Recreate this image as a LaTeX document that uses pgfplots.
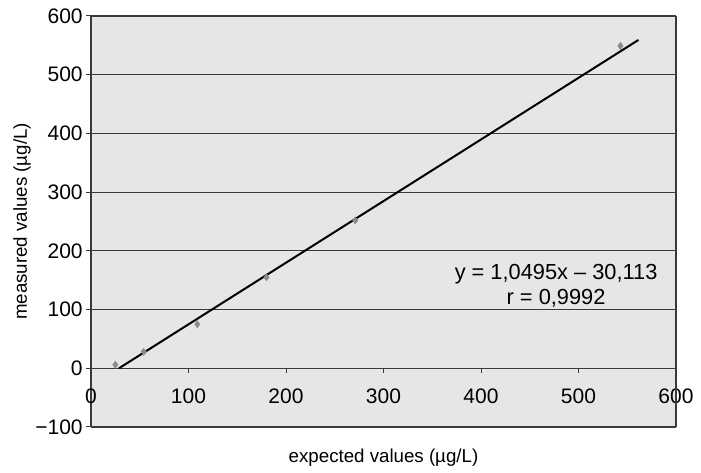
\documentclass[border=0pt]{standalone}
\usepackage{pgfplots}
\pgfplotsset{compat=1.18}
\usepackage{fontspec}
\setmainfont{Liberation Sans}
\definecolor{bg}{HTML}{E5E6E7}
\definecolor{gridc}{HTML}{3A3A3A}
\definecolor{ptc}{HTML}{8A8A8A}
\begin{document}
\fontsize{18.5}{22}\selectfont
\begin{tikzpicture}
\useasboundingbox (-91pt,-46pt) rectangle (610pt,427pt);
\begin{axis}[
 scale only axis, width=585pt, height=411pt,
 xmin=0, xmax=600, ymin=-100, ymax=600,
 axis x line=middle, axis y line=left,
 hide obscured x ticks=false, hide obscured y ticks=false,
 axis line style={-, draw=gridc, line width=1.4pt},
 xtick={0,100,...,600}, ytick={-100,0,...,600},
 xticklabels={0,100,200,300,400,500,600},
 yticklabels={−100,0,100,200,300,400,500,600},
 ymajorgrids, grid style={draw=gridc, line width=1.2pt},
 axis background/.style={fill=bg},
 tick align=outside, major tick length=5pt,
 tick style={draw=gridc, line width=1pt},
 tick label style={font=\fontsize{21}{24}\selectfont},
 xticklabel style={anchor=north, yshift=-9pt},
 yticklabel style={xshift=3pt},
 xlabel={expected values (µg/L)},
 ylabel={measured values (µg/L)},
 xlabel style={at={(axis description cs:0.5,-0.0754)}, anchor=center, font=\fontsize{18.7}{22}\selectfont},
 ylabel style={at={(axis description cs:-0.118,0.5)}, anchor=center, rotate=0, font=\fontsize{18.7}{22}\selectfont},
 clip=false,
]
\draw[gridc, line width=1.4pt] (rel axis cs:1,0) -- (rel axis cs:1,1);
\draw[gridc, line width=1.6pt] (rel axis cs:0,0) -- (rel axis cs:1,0);
\addplot[only marks, mark=diamond*, mark size=3.6pt, color=ptc] coordinates {
 (25,6) (54,28) (109,75) (180,155) (271,252) (543,549)
};
\addplot[black, line width=2pt] coordinates {(28.7,0) (561.5,559.2)};
\node[align=center, font=\fontsize{21.8}{25}\selectfont] at (axis cs:477,140) {y = 1,0495x – 30,113\\r = 0,9992};
\end{axis}
\end{tikzpicture}
\end{document}
